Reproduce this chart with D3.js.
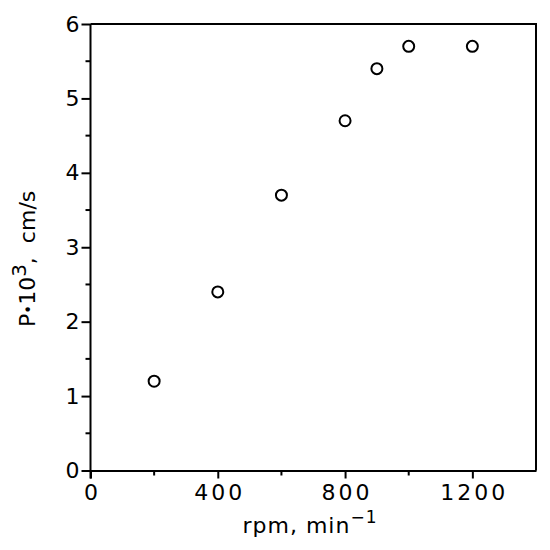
<!DOCTYPE html>
<html>
<head>
	<meta charset="utf-8">
	<script src="https://d3js.org/d3.v7.min.js"></script>
	<style>
		body { margin: 0; background: #fff; }
		text { font-family: "DejaVu Sans", sans-serif; fill: #000; }
		.axis path, .axis line { stroke: #000; stroke-width: 2px; }
	</style>
</head>
<body>
	<div id="chart"></div>
	<script>
		// data
		var rpm = [200, 400, 600, 800, 900, 1000, 1200];
		var perm = [1.2, 2.4, 3.7, 4.7, 5.4, 5.7, 5.7];
		var xMajor = [0, 400, 800, 1200];
		var xMinor = [200, 600, 1000];
		var yMajor = [0, 1, 2, 3, 4, 5, 6];
		var yMinor = [0.5, 1.5, 2.5, 3.5, 4.5, 5.5];

		var W = 550, H = 550;
		var mLeft = 90.5, mRight = 536, mTop = 24, mBottom = 470.5;

		var svg = d3.select("#chart").append("svg")
			.attr("width", W).attr("height", H);

		var x = d3.scaleLinear().domain([0, 1400]).range([mLeft, mRight]);
		var y = d3.scaleLinear().domain([0, 6]).range([mBottom, mTop]);

		// frame top + right
		svg.append("path")
			.attr("d", "M" + mLeft + "," + mTop + "H" + mRight + "V" + mBottom)
			.attr("fill", "none").attr("stroke", "#000").attr("stroke-width", 2);

		var gx = svg.append("g").attr("class", "axis")
			.attr("transform", "translate(0," + mBottom + ")")
			.call(d3.axisBottom(x).tickValues(xMajor).tickFormat(d3.format("d"))
				.tickSize(8).tickPadding(6).tickSizeOuter(0));
		gx.selectAll("text").style("font-size", "22px")
			.style("letter-spacing", "3px").attr("dx", 1.5);
		gx.append("g").selectAll("line").data(xMinor).enter().append("line")
			.attr("x1", function(d) { return x(d); }).attr("x2", function(d) { return x(d); })
			.attr("y1", 0).attr("y2", 5);

		var gy = svg.append("g").attr("class", "axis")
			.attr("transform", "translate(" + mLeft + ",0)")
			.call(d3.axisLeft(y).tickValues(yMajor).tickFormat(d3.format("d"))
				.tickSize(9).tickPadding(2).tickSizeOuter(0));
		gy.selectAll("text").style("font-size", "22px");
		gy.append("g").selectAll("line").data(yMinor).enter().append("line")
			.attr("y1", function(d) { return y(d); }).attr("y2", function(d) { return y(d); })
			.attr("x1", 0).attr("x2", -5);
		gy.select(".domain").attr("d", "M0," + (mBottom + 8) + "V" + mTop);

		svg.selectAll("circle.pt").data(rpm).enter().append("circle")
			.attr("class", "pt")
			.attr("cx", function(d) { return x(d); })
			.attr("cy", function(d, i) { return y(perm[i]); })
			.attr("r", 5.5)
			.attr("fill", "none").attr("stroke", "#000").attr("stroke-width", 2);

		// x title
		var xt = svg.append("text")
			.attr("x", 310).attr("y", 533)
			.attr("text-anchor", "middle")
			.style("font-size", "22px").style("letter-spacing", "1px");
		xt.append("tspan").text("rpm,\u00a0min");
		xt.append("tspan").attr("dy", -10).style("font-size", "17px").text("\u22121");

		// y title
		var yt = svg.append("text")
			.attr("transform", "translate(35,327) rotate(-90)")
			.style("font-size", "22px");
		yt.append("tspan").text("P");
		yt.append("tspan").style("font-size", "15px").attr("dy", -1).text("\u2022");
		yt.append("tspan").attr("dy", 1).text("10");
		yt.append("tspan").attr("dy", -9).style("font-size", "20px").text("3");
		yt.append("tspan").attr("dy", 9).text(",\u00a0\u00a0cm/s");
	</script>
</body>
</html>
